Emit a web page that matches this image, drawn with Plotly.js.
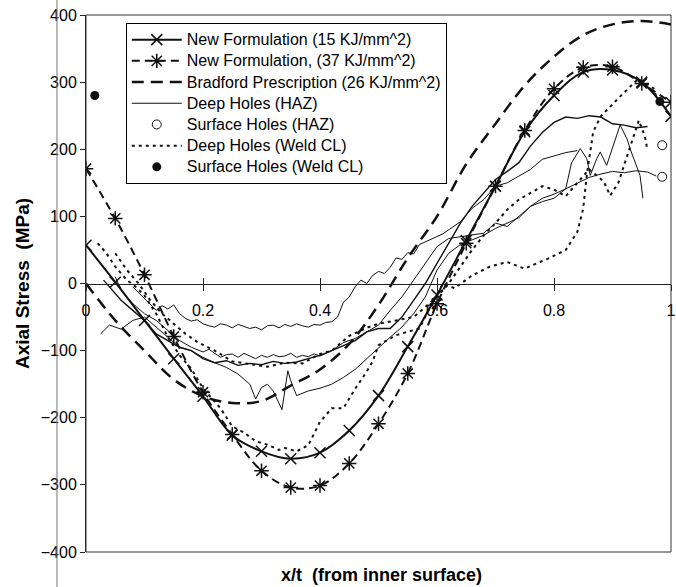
<!DOCTYPE html>
<html>
<head>
<meta charset="utf-8">
<script src="https://cdn.plot.ly/plotly-3.0.1.min.js"></script>
<style>html,body{margin:0;padding:0;background:#fff;}#chart{width:676px;height:587px;}</style>
</head>
<body>
<div id="chart"></div>
<script>
// ---- Model predictions (x/t grid) ----
const xModel = [0,0.05,0.1,0.15,0.2,0.25,0.3,0.35,0.4,0.45,0.5,0.55,0.6,0.65,0.7,0.75,0.8,0.85,0.9,0.95,1.0];
const newForm15 = [57,2,-55,-112,-168,-226,-250,-261,-252,-219,-167,-94,-17,64,145,226,280,315,318,300,249];
const newForm37 = [171,97,13,-79,-162,-225,-279,-304,-301,-268,-209,-134,-30,60,145,228,290,322,323,298,270];
const bradford  = [0,-55,-100,-143,-168,-178,-175,-152,-128,-90,-32,38,100,178,238,295,338,370,386,391,386];

// ---- Deep Holes (HAZ) measurements ----
const hazX1 = [0.08,0.10,0.11,0.12,0.13,0.14,0.15,0.16,0.17,0.18,0.19,0.20,0.21,0.22,0.23,0.24,0.25,0.26,0.27,0.28,0.29,0.30,0.31,0.32,0.33,0.34,0.35,0.36,0.37,0.38,0.39,0.40,0.41,0.42,0.43,0.44,0.45,0.46,0.47,0.48,0.49,0.50,0.51,0.52,0.53,0.54,0.55,0.56,0.57,0.58,0.59,0.60,0.61,0.62,0.64,0.66,0.68,0.70,0.72,0.74,0.76,0.78,0.80,0.82,0.84];
const hazY1 = [-5,-22,-30,-40,-33,-38,-32,-45,-52,-56,-54,-60,-63,-65,-60,-62,-66,-61,-64,-67,-65,-69,-63,-62,-66,-61,-64,-60,-63,-65,-61,-62,-58,-57,-50,-28,-20,-5,5,0,12,18,15,24,38,36,46,44,58,62,66,70,74,80,92,112,125,145,150,160,170,185,190,195,198];
const hazX2 = [0.025,0.04,0.06,0.08,0.10,0.12,0.14,0.16,0.18,0.20,0.22,0.24,0.26,0.28,0.29,0.30,0.31,0.32,0.335,0.345,0.35,0.36,0.38,0.40,0.42,0.44,0.46,0.48,0.50,0.52,0.54,0.56,0.58,0.60,0.62,0.64,0.66,0.68,0.70,0.72,0.74,0.76,0.78,0.80,0.82,0.83,0.845,0.856,0.862,0.873,0.879,0.89,0.90,0.913,0.925,0.93,0.947,0.952];
const hazY2 = [-75,-62,-68,-55,-50,-65,-80,-95,-100,-110,-118,-125,-135,-150,-172,-155,-150,-160,-188,-130,-145,-167,-160,-156,-150,-140,-128,-112,-95,-80,-65,-45,-20,20,45,58,65,72,82,90,98,115,127,133,141,180,201,186,161,186,196,176,201,236,215,201,161,127];
const hazX3 = [0.05,0.06,0.08,0.10,0.12,0.14,0.16,0.18,0.20,0.21,0.22,0.23,0.24,0.25,0.26,0.27,0.28,0.29,0.30,0.31,0.32,0.33,0.34,0.35,0.36,0.37,0.38,0.39,0.40,0.42,0.44,0.46,0.48,0.50,0.52,0.54,0.56,0.58,0.60,0.62,0.64,0.66,0.68,0.70,0.72,0.74,0.76,0.78,0.80,0.82,0.84,0.86,0.88,0.90,0.92,0.94,0.96,0.975];
const hazY3 = [10,-10,-30,-45,-55,-70,-85,-95,-102,-98,-104,-110,-106,-105,-110,-104,-108,-112,-107,-110,-106,-109,-108,-104,-110,-107,-109,-105,-108,-100,-88,-82,-72,-62,-40,-20,5,30,55,67,70,72,75,90,85,100,115,122,127,141,150,158,163,167,165,168,166,160];
const hazX4 = [0.03,0.045,0.06,0.08,0.10,0.12,0.14,0.16,0.18,0.20,0.22,0.24,0.26,0.28,0.30,0.32,0.34,0.36,0.38,0.40,0.42,0.44,0.46,0.48,0.50,0.52,0.54,0.56,0.58,0.60,0.62,0.64,0.66,0.68,0.70,0.72,0.74,0.76,0.78,0.80,0.82,0.84,0.86,0.88,0.90,0.92,0.94,0.96];
const hazY4 = [5,-10,-25,-40,-55,-75,-85,-95,-100,-112,-118,-115,-122,-119,-121,-116,-119,-117,-112,-107,-100,-92,-85,-72,-67,-67,-50,-25,0,30,60,90,115,135,155,167,180,205,225,240,248,246,250,248,238,236,232,234];

// ---- Deep Holes (Weld CL) measurements ----
const weldX1 = [0.02,0.035,0.05,0.07,0.085,0.10,0.12,0.14,0.16,0.18,0.20,0.23,0.25,0.27,0.29,0.31,0.33,0.34,0.36,0.38,0.40,0.42,0.44,0.46,0.48,0.49,0.50,0.53,0.57,0.59,0.61,0.63,0.66,0.69,0.72,0.75,0.77,0.79,0.82,0.84,0.85,0.856,0.867,0.88,0.91,0.944,0.97,0.98];
const weldY1 = [60,45,25,5,-5,-18,-45,-80,-107,-127,-156,-186,-213,-222,-235,-240,-248,-245,-250,-241,-206,-186,-186,-157,-131,-116,-92,-77,-67,-32,0,-7,12,25,32,22,30,37,50,77,112,161,226,249,276,305,291,265];
const weldX2 = [0.05,0.07,0.09,0.11,0.13,0.15,0.17,0.19,0.22,0.25,0.28,0.31,0.34,0.37,0.40,0.42,0.45,0.48,0.50,0.53,0.56,0.58,0.60,0.62,0.64,0.66,0.68,0.70,0.72,0.74,0.76,0.78,0.80,0.82,0.84,0.86,0.885,0.896,0.91,0.92,0.935,0.945,0.955,0.96];
const weldY2 = [45,20,0,-25,-45,-60,-75,-87,-100,-116,-120,-124,-118,-119,-105,-100,-78,-66,-60,-55,-50,-35,-20,0,25,50,72,90,110,125,135,145,140,130,150,170,152,131,150,176,215,243,220,198];

// ---- Surface holes ----
const surfHazX = [0.985,0.985];
const surfHazY = [206,159];
const surfWeldX = [0.015,0.981];
const surfWeldY = [280,271];

// legend labels (rendered a bit larger than the row spacing font)
const seriesNames = ['New Formulation (15 KJ/mm^2)','New Formulation, (37 KJ/mm^2)','Bradford Prescription (26 KJ/mm^2)',
  'Deep Holes (HAZ)','Surface Holes (HAZ)','Deep Holes (Weld CL)','Surface Holes (Weld CL)'];
const lbl = s => '<span style="font-size:16px">' + s + '</span>';

const lineBlack = '#111';
const traces = [
  {x:xModel, y:newForm15, name:lbl(seriesNames[0]), mode:'lines+markers',
   line:{color:lineBlack,width:2,shape:'spline'}, marker:{symbol:'x-thin-open',size:11,color:lineBlack,line:{width:1.5,color:lineBlack}}},
  {x:xModel, y:newForm37, name:lbl(seriesNames[1]), mode:'lines+markers',
   line:{color:lineBlack,width:2,dash:'8px,5px',shape:'spline'}, marker:{symbol:'asterisk-open',size:12,color:lineBlack,line:{width:1.5,color:lineBlack}}},
  {x:xModel, y:bradford, name:lbl(seriesNames[2]), mode:'lines',
   line:{color:lineBlack,width:2.5,dash:'12px,7px',shape:'spline'}},
  {x:hazX1, y:hazY1, name:lbl(seriesNames[3]), legendgroup:'haz', mode:'lines', line:{color:lineBlack,width:1}},
  {x:hazX2, y:hazY2, name:lbl(seriesNames[3]), legendgroup:'haz', showlegend:false, mode:'lines', line:{color:lineBlack,width:1}},
  {x:hazX3, y:hazY3, name:lbl(seriesNames[3]), legendgroup:'haz', showlegend:false, mode:'lines', line:{color:lineBlack,width:1}},
  {x:hazX4, y:hazY4, name:lbl(seriesNames[3]), legendgroup:'haz', showlegend:false, mode:'lines', line:{color:lineBlack,width:1.4}},
  {x:surfHazX, y:surfHazY, name:lbl(seriesNames[4]), mode:'markers',
   marker:{symbol:'circle-open',size:9,color:lineBlack,line:{width:1,color:lineBlack}}},
  {x:weldX1, y:weldY1, name:lbl(seriesNames[5]), legendgroup:'weld', mode:'lines', line:{color:lineBlack,width:2,dash:'3px,4px'}},
  {x:weldX2, y:weldY2, name:lbl(seriesNames[5]), legendgroup:'weld', showlegend:false, mode:'lines', line:{color:lineBlack,width:2,dash:'3px,4px'}},
  {x:surfWeldX, y:surfWeldY, name:lbl(seriesNames[6]), mode:'markers',
   marker:{symbol:'circle',size:9,color:lineBlack}}
];

const fam = '"Liberation Sans", Arial, sans-serif';
const tickFont = {family:fam, size:16, color:'#000'};
const layout = {
  width:676, height:587,
  margin:{l:86, r:5, t:15, b:35},
  paper_bgcolor:'#fff', plot_bgcolor:'#fff',
  font:tickFont,
  showlegend:true,
  legend:{x:0.068, y:0.985, xanchor:'left', yanchor:'top', bgcolor:'#fff', bordercolor:'#000', borderwidth:1,
          font:{family:fam,size:14,color:'#000'}, itemwidth:50, traceorder:'normal', tracegroupgap:0},
  xaxis:{range:[0,1], anchor:'free', position:0.5, showgrid:false, zeroline:false,
         showline:true, linecolor:'#222', linewidth:1,
         tickvals:[0,0.2,0.4,0.6,0.8,1], ticks:'outside', ticklen:6, tickcolor:'#222',
         ticklabelstandoff:6, tickfont:tickFont},
  xaxis2:{range:[0,1], overlaying:'x', anchor:'free', position:0.5, showgrid:false, zeroline:false,
          tickvals:[0,0.2,0.4,0.6,0.8,1], ticks:'inside', ticklen:6, tickcolor:'#222', showticklabels:false},
  yaxis:{range:[-400,400], tickvals:[-400,-300,-200,-100,0,100,200,300,400], showgrid:false, zeroline:false,
         showline:true, linecolor:'#222', linewidth:1, ticks:'outside', ticklen:5, tickcolor:'#222',
         tickfont:tickFont,
         title:{text:'Axial Stress \u00a0(MPa)', font:{family:fam,size:19,color:'#000',weight:'bold'}, standoff:6}},
  annotations:[{xref:'paper', yref:'paper', x:0.505, y:-0.043, xanchor:'center', yanchor:'middle', showarrow:false,
                text:'<b>x/t \u00a0(from inner surface)</b>', font:{family:fam,size:18,color:'#000'}}],
  shapes:[
    {type:'rect', xref:'paper', yref:'paper', x0:0, x1:1, y0:0, y1:1, line:{color:'#333',width:1}},
    {type:'line', xref:'paper', yref:'paper', x0:-0.0496, x1:-0.0496, y0:-0.07, y1:1.03, line:{color:'#777',width:1}}
  ]
};
// an invisible trace so the overlaid tick axis (inner half of the cross ticks) is drawn
traces.push({x:[0], y:[0], xaxis:'x2', yaxis:'y', mode:'markers', marker:{opacity:0}, showlegend:false, hoverinfo:'skip'});
Plotly.newPlot('chart', traces, layout, {staticPlot:true, displayModeBar:false});
</script>
</body>
</html>
